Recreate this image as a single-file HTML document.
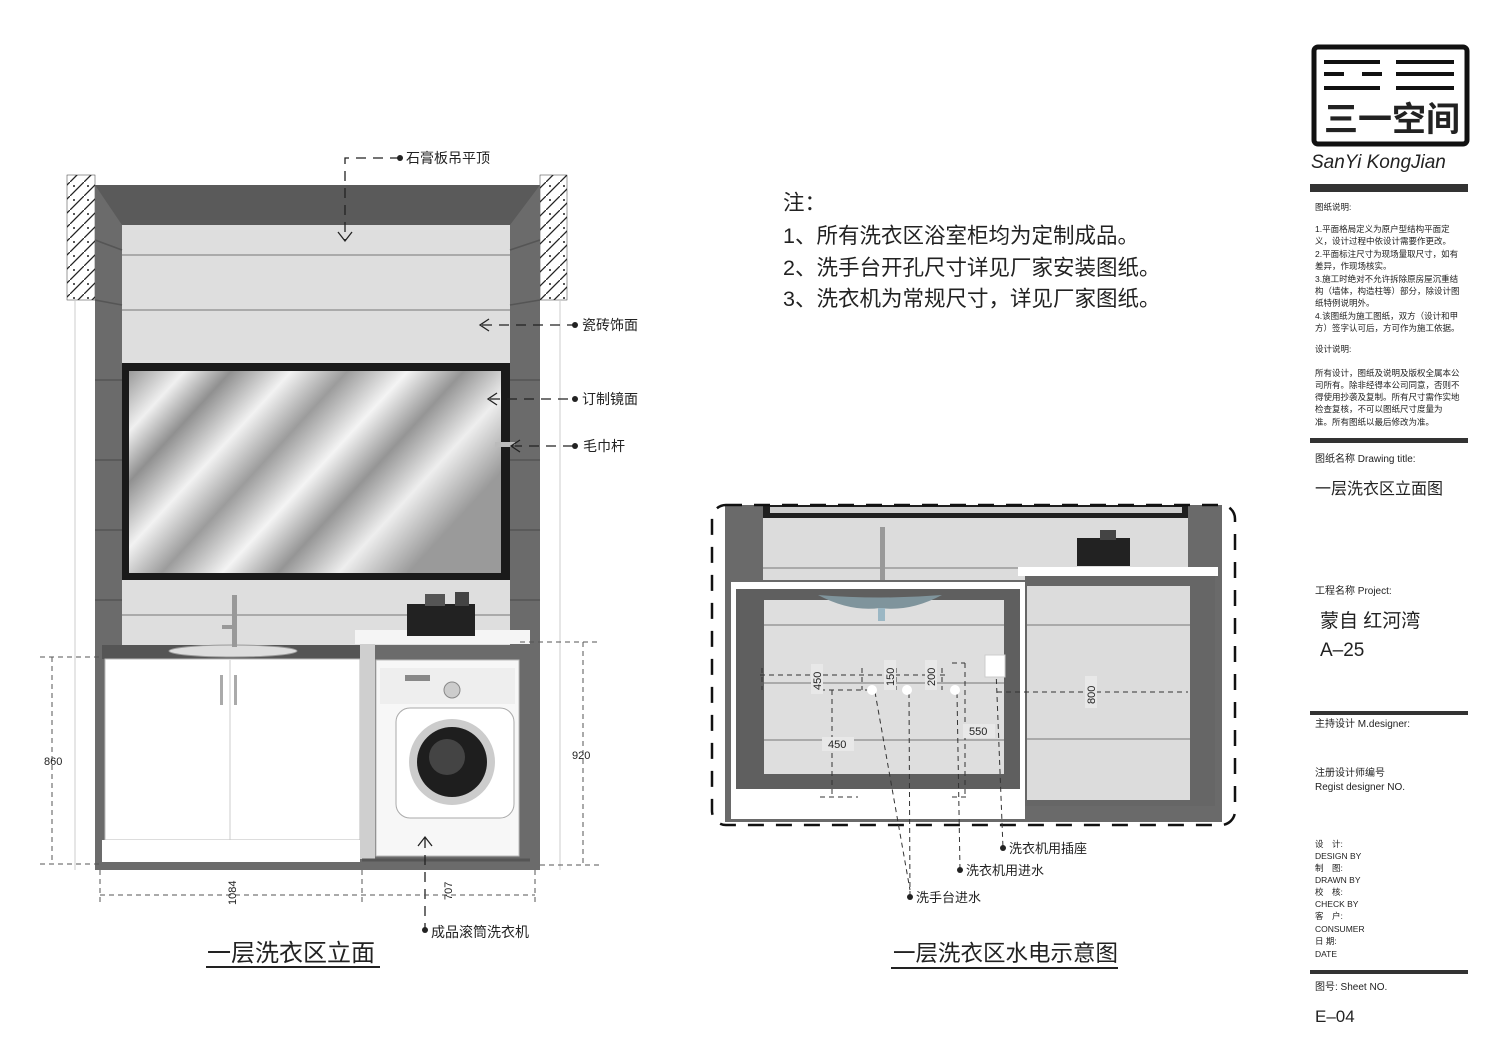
<!DOCTYPE html>
<html><head><meta charset="utf-8"><style>
html,body{margin:0;padding:0;background:#fff;}
svg{display:block;}
text{font-family:"Liberation Sans","Noto Sans CJK SC",sans-serif;fill:#222;}
</style></head><body>
<svg width="1500" height="1061" viewBox="0 0 1500 1061" xmlns="http://www.w3.org/2000/svg">
<defs>
<linearGradient id="mir" x1="0" y1="0" x2="1" y2="0.5">
<stop offset="0" stop-color="#9a9a9a"/><stop offset="0.12" stop-color="#f0f0f0"/><stop offset="0.22" stop-color="#909090"/>
<stop offset="0.35" stop-color="#f2f2f2"/><stop offset="0.47" stop-color="#9c9c9c"/><stop offset="0.6" stop-color="#f4f4f4"/>
<stop offset="0.72" stop-color="#959595"/><stop offset="0.85" stop-color="#eeeeee"/><stop offset="1" stop-color="#9a9a9a"/>
</linearGradient>
<pattern id="hatch" width="14" height="14" patternUnits="userSpaceOnUse">
<rect width="14" height="14" fill="#fff"/><path d="M0 14 L14 0" stroke="#222" stroke-width="1.3"/><circle cx="4" cy="4" r="1" fill="#222"/>
</pattern>
</defs>

<!-- LEFT ELEVATION -->
<rect x="67" y="175" width="28" height="125" fill="url(#hatch)" stroke="#333" stroke-width="0.5"/>
<rect x="540" y="175" width="27" height="125" fill="url(#hatch)" stroke="#333" stroke-width="0.5"/>
<line x1="75" y1="300" x2="75" y2="870" stroke="#ccc"/>
<line x1="560" y1="300" x2="560" y2="870" stroke="#ccc"/>
<rect x="95" y="185" width="445" height="685" fill="#6b6b6b"/>
<polygon points="95,185 540,185 510,225 122,225" fill="#5a5a5a"/>
<rect x="122" y="225" width="388" height="420" fill="#dedede"/>
<line x1="122" y1="255" x2="510" y2="255" stroke="#aaa" stroke-width="2"/>
<line x1="122" y1="310" x2="510" y2="310" stroke="#aaa" stroke-width="2"/>
<line x1="122" y1="615" x2="510" y2="615" stroke="#aaa" stroke-width="2"/>
<g stroke="#555" stroke-width="1.5">
<line x1="95" y1="240" x2="122" y2="250"/><line x1="95" y1="300" x2="122" y2="305"/><line x1="95" y1="380" x2="122" y2="380"/><line x1="95" y1="460" x2="122" y2="460"/><line x1="95" y1="530" x2="122" y2="530"/><line x1="95" y1="600" x2="122" y2="600"/>
<line x1="540" y1="240" x2="510" y2="250"/><line x1="540" y1="300" x2="510" y2="305"/><line x1="540" y1="380" x2="510" y2="380"/><line x1="540" y1="460" x2="510" y2="460"/><line x1="540" y1="530" x2="510" y2="530"/><line x1="540" y1="600" x2="510" y2="600"/>
</g>
<rect x="122" y="363" width="388" height="217" fill="#1a1a1a"/>
<rect x="129" y="371" width="372" height="202" fill="url(#mir)"/>
<rect x="495" y="442" width="20" height="5" fill="#bbb"/>
<!-- counter + cabinet -->
<rect x="102" y="645" width="258" height="14" fill="#555"/>
<ellipse cx="233" cy="651" rx="64" ry="6" fill="#ddd" stroke="#999"/>
<rect x="232" y="595" width="5" height="52" fill="#999"/>
<rect x="222" y="625" width="10" height="4" fill="#999"/>
<rect x="105" y="659" width="255" height="181" fill="#fff" stroke="#bbb"/>
<line x1="230" y1="660" x2="230" y2="840" stroke="#ccc"/>
<rect x="220" y="675" width="3" height="30" fill="#aaa"/><rect x="234" y="675" width="3" height="30" fill="#aaa"/>
<rect x="102" y="840" width="258" height="22" fill="#fff"/>
<rect x="355" y="630" width="175" height="14" fill="#f5f5f5"/>
<rect x="360" y="644" width="15" height="215" fill="#cfcfcf"/>
<rect x="407" y="604" width="68" height="32" fill="#222"/>
<rect x="425" y="594" width="20" height="12" fill="#555"/><rect x="455" y="592" width="14" height="14" fill="#444"/>
<!-- washer -->
<rect x="376" y="660" width="143" height="196" fill="#f7f7f7" stroke="#bbb"/>
<rect x="380" y="668" width="135" height="36" fill="#eee"/>
<rect x="405" y="675" width="25" height="6" fill="#888"/>
<circle cx="452" cy="690" r="8" fill="#ccc" stroke="#888"/>
<rect x="396" y="708" width="118" height="110" rx="14" fill="#fff" stroke="#aaa"/>
<circle cx="452" cy="762" r="43" fill="#ccc"/>
<circle cx="452" cy="762" r="35" fill="#1e1e1e"/>
<circle cx="447" cy="757" r="18" fill="#444"/>
<line x1="362" y1="860" x2="530" y2="860" stroke="#555" stroke-width="3"/>
<!-- leaders -->
<g stroke="#222" stroke-width="1.3" stroke-dasharray="10,7" fill="none">
<polyline points="400,158 345,158 345,240"/>
<line x1="482" y1="325" x2="575" y2="325"/>
<line x1="490" y1="399" x2="575" y2="399"/>
<line x1="512" y1="446" x2="575" y2="446"/>
<line x1="425" y1="838" x2="425" y2="930"/>
</g>
<g stroke="#222" stroke-width="1.3" fill="none">
<polyline points="338,232 345,241 352,232"/>
<polyline points="489,319 480,325 489,331"/>
<polyline points="497,393 488,399 497,405"/>
<polyline points="520,440 511,446 520,452"/>
<polyline points="418,846 425,837 432,846"/>
</g>
<g fill="#222"><circle cx="400" cy="158" r="3"/><circle cx="575" cy="325" r="3"/><circle cx="575" cy="399" r="3"/><circle cx="575" cy="446" r="3"/><circle cx="425" cy="930" r="3"/></g>
<g font-size="14"><text x="406" y="163">石膏板吊平顶</text><text x="582" y="330">瓷砖饰面</text><text x="582" y="404">订制镜面</text><text x="583" y="451">毛巾杆</text><text x="431" y="937">成品滚筒洗衣机</text></g>
<!-- dims -->
<g stroke="#555" stroke-width="1" stroke-dasharray="5,4" fill="none">
<line x1="40" y1="657" x2="100" y2="657"/><line x1="40" y1="864" x2="100" y2="864"/><line x1="52" y1="657" x2="52" y2="864"/>
<line x1="520" y1="642" x2="600" y2="642"/><line x1="540" y1="865" x2="600" y2="865"/><line x1="583" y1="642" x2="583" y2="865"/>
<line x1="100" y1="895" x2="535" y2="895"/><line x1="100" y1="870" x2="100" y2="905"/><line x1="362" y1="870" x2="362" y2="905"/><line x1="535" y1="870" x2="535" y2="905"/>
</g>
<g font-size="11" fill="#444"><text x="44" y="765">860</text><text x="572" y="759">920</text>
<text transform="translate(236,905) rotate(-90)">1084</text><text transform="translate(452,900) rotate(-90)">707</text></g>
<text x="207" y="961" font-size="24">一层洗衣区立面</text>
<line x1="206" y1="967" x2="380" y2="967" stroke="#222" stroke-width="2"/>

<!-- NOTES -->
<g font-size="21.5"><text x="783" y="210">注：</text>
<text x="783" y="243">1、所有洗衣区浴室柜均为定制成品。</text>
<text x="783" y="275">2、洗手台开孔尺寸详见厂家安装图纸。</text>
<text x="783" y="306">3、洗衣机为常规尺寸，详见厂家图纸。</text></g>

<!-- RIGHT DIAGRAM -->
<rect x="725" y="505" width="497" height="317" fill="#6a6a6a"/>
<rect x="763" y="505" width="425" height="13" fill="#1f1f1f"/>
<rect x="770" y="507" width="412" height="6" fill="#ccc"/>
<rect x="763" y="518" width="425" height="62" fill="#dcdcdc"/>
<line x1="763" y1="568" x2="1188" y2="568" stroke="#aaa" stroke-width="2"/>
<rect x="880" y="527" width="5" height="53" fill="#999"/>
<rect x="1077" y="538" width="53" height="28" fill="#222"/>
<rect x="1100" y="530" width="16" height="10" fill="#444"/>
<!-- right cab -->
<rect x="1018" y="567" width="200" height="9" fill="#fff"/>
<rect x="1025" y="576" width="190" height="230" fill="#666"/>
<rect x="1027" y="586" width="163" height="214" fill="#dcdcdc"/>
<line x1="1027" y1="625" x2="1190" y2="625" stroke="#aaa" stroke-width="2"/>
<line x1="1027" y1="739" x2="1190" y2="739" stroke="#aaa" stroke-width="2"/>
<!-- left cab -->
<rect x="731" y="582" width="294" height="237" fill="#fff"/>
<rect x="736" y="589" width="284" height="200" fill="#5f5f5f"/>
<rect x="764" y="600" width="240" height="174" fill="#dedede"/>
<line x1="764" y1="625" x2="1004" y2="625" stroke="#aaa" stroke-width="2"/>
<line x1="764" y1="683" x2="1004" y2="683" stroke="#aaa" stroke-width="2"/>
<line x1="764" y1="740" x2="1004" y2="740" stroke="#aaa" stroke-width="2"/>
<path d="M818 595 Q880 600 942 595 Q910 612 880 608 Q850 612 818 595Z" fill="#7f949c"/>
<rect x="878" y="608" width="7" height="13" fill="#9bb7c4"/>
<!-- dashed border -->
<rect x="712" y="505" width="523" height="320" rx="14" fill="none" stroke="#111" stroke-width="2.5" stroke-dasharray="16,12"/>
<!-- dims -->
<g stroke="#333" stroke-width="1" stroke-dasharray="5,4" fill="none">
<line x1="760" y1="675" x2="945" y2="675"/><line x1="820" y1="690" x2="870" y2="690"/>
<line x1="997" y1="692" x2="1188" y2="692"/>
<line x1="832" y1="690" x2="832" y2="798"/><line x1="965" y1="663" x2="965" y2="798"/>
<line x1="952" y1="663" x2="965" y2="663"/>
<line x1="820" y1="797" x2="858" y2="797"/><line x1="952" y1="797" x2="968" y2="797"/>
<line x1="762" y1="668" x2="762" y2="690"/><line x1="862" y1="668" x2="862" y2="690"/><line x1="896" y1="668" x2="896" y2="690"/><line x1="942" y1="668" x2="942" y2="690"/>
<line x1="875" y1="692" x2="910" y2="890"/><line x1="909" y1="693" x2="910" y2="897"/><line x1="957" y1="693" x2="960" y2="870"/><line x1="996" y1="670" x2="1003" y2="848"/>
</g>
<g fill="#e8e8e8"><rect x="811" y="664" width="12" height="30"/><rect x="884" y="660" width="12" height="30"/><rect x="925" y="660" width="12" height="30"/><rect x="1085" y="676" width="12" height="32"/><rect x="822" y="737" width="32" height="14"/><rect x="963" y="724" width="32" height="14"/></g>
<g font-size="11" fill="#444">
<text transform="translate(821,690) rotate(-90)">450</text><text transform="translate(894,686) rotate(-90)">150</text><text transform="translate(935,686) rotate(-90)">200</text><text transform="translate(1095,704) rotate(-90)">800</text>
<text x="828" y="748">450</text><text x="969" y="735">550</text></g>
<circle cx="872" cy="690" r="5" fill="#fff"/><circle cx="907" cy="690" r="5" fill="#fff"/><circle cx="955" cy="690" r="5" fill="#fff"/>
<rect x="985" y="655" width="20" height="22" fill="#fff" stroke="#ccc"/>
<g fill="#222"><circle cx="1003" cy="848" r="3"/><circle cx="960" cy="870" r="3"/><circle cx="910" cy="897" r="3"/></g>
<g font-size="13"><text x="1009" y="853">洗衣机用插座</text><text x="966" y="875">洗衣机用进水</text><text x="916" y="902">洗手台进水</text></g>
<text x="893" y="961" font-size="22.5">一层洗衣区水电示意图</text>
<line x1="891" y1="968" x2="1118" y2="968" stroke="#222" stroke-width="2"/>

<!-- TITLE BLOCK -->
<rect x="1314" y="47" width="153" height="97" fill="none" stroke="#111" stroke-width="5" rx="4"/>
<g fill="#111">
<rect x="1324" y="60" width="56" height="4"/><rect x="1396" y="60" width="58" height="4"/>
<rect x="1324" y="72" width="20" height="4"/><rect x="1362" y="72" width="20" height="4"/><rect x="1396" y="72" width="58" height="4"/>
<rect x="1324" y="86" width="56" height="4"/><rect x="1396" y="86" width="58" height="4"/>
</g>
<text x="1324" y="131" font-size="34" font-weight="bold" fill="#111">三一空间</text>
<text x="1311" y="168" font-size="19" font-style="italic" font-family="Liberation Serif,serif" fill="#111">SanYi KongJian</text>
<rect x="1310" y="184" width="158" height="8" fill="#333"/>
<g font-size="8.5" fill="#333">
<text x="1315" y="210">图纸说明:</text>
<text x="1315" y="232">1.平面格局定义为原户型结构平面定</text>
<text x="1315" y="244">义，设计过程中依设计需要作更改。</text>
<text x="1315" y="257">2.平面标注尺寸为现场量取尺寸，如有</text>
<text x="1315" y="269">差异，作现场核实。</text>
<text x="1315" y="282">3.施工时绝对不允许拆除原房屋沉重结</text>
<text x="1315" y="294">构（墙体，构造柱等）部分，除设计图</text>
<text x="1315" y="306">纸特例说明外。</text>
<text x="1315" y="319">4.该图纸为施工图纸，双方（设计和甲</text>
<text x="1315" y="331">方）签字认可后，方可作为施工依据。</text>
<text x="1315" y="352">设计说明:</text>
<text x="1315" y="376">所有设计，图纸及说明及版权全属本公</text>
<text x="1315" y="388">司所有。除非经得本公司同意，否则不</text>
<text x="1315" y="400">得使用抄袭及复制。所有尺寸需作实地</text>
<text x="1315" y="412">检查复核，不可以图纸尺寸度量为</text>
<text x="1315" y="425">准。所有图纸以最后修改为准。</text>
</g>
<rect x="1310" y="438" width="158" height="5" fill="#333"/>
<text x="1315" y="462" font-size="10" fill="#333">图纸名称  Drawing title:</text>
<text x="1315" y="494" font-size="16" fill="#222">一层洗衣区立面图</text>
<text x="1315" y="594" font-size="10" fill="#333">工程名称  Project:</text>
<text x="1320" y="627" font-size="19" fill="#222">蒙自 红河湾</text>
<text x="1320" y="656" font-size="19" fill="#222">A–25</text>
<rect x="1310" y="711" width="158" height="4" fill="#333"/>
<text x="1315" y="727" font-size="10" fill="#333">主持设计  M.designer:</text>
<text x="1315" y="776" font-size="10" fill="#333">注册设计师编号</text>
<text x="1315" y="790" font-size="10" fill="#333">Regist designer NO.</text>
<g font-size="8.5" fill="#333">
<text x="1315" y="847">设　计:</text><text x="1315" y="859">DESIGN BY</text>
<text x="1315" y="871">制　图:</text><text x="1315" y="883">DRAWN BY</text>
<text x="1315" y="895">校　核:</text><text x="1315" y="907">CHECK BY</text>
<text x="1315" y="919">客　户:</text><text x="1315" y="932">CONSUMER</text>
<text x="1315" y="944">日 期:</text><text x="1315" y="957">DATE</text>
</g>
<rect x="1310" y="970" width="158" height="4" fill="#333"/>
<text x="1315" y="990" font-size="10" fill="#333">图号:  Sheet NO.</text>
<text x="1315" y="1022" font-size="17" fill="#222">E–04</text>
</svg>
</body></html>
